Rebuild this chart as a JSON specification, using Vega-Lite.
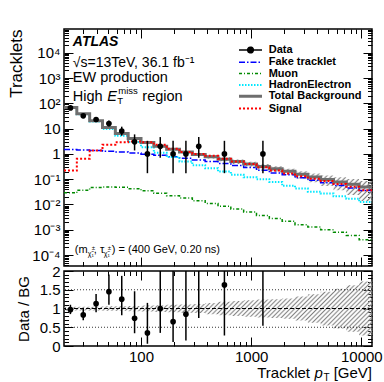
{
  "$schema": "https://vega.github.io/schema/vega-lite/v6.json",
  "padding": {"left": 7, "top": 27, "right": 5, "bottom": 2},
  "spacing": -5,
  "datasets": {
    "hist": [
      {"x": 20, "Total Background": 68, "Fake tracklet": 1.5, "Muon": 0.029, "HadronElectron": 66.5, "Signal": 0.22, "tlo": 64.6, "thi": 71.4, "rlo": 0.95, "rhi": 1.05},
      {"x": 26.15, "Total Background": 38.5, "Fake tracklet": 1.42, "Muon": 0.037, "HadronElectron": 37, "Signal": 0.65, "tlo": 36.6, "thi": 40.4, "rlo": 0.95, "rhi": 1.05},
      {"x": 34.2, "Total Background": 20.4, "Fake tracklet": 1.35, "Muon": 0.047, "HadronElectron": 19, "Signal": 1.37, "tlo": 19.4, "thi": 21.4, "rlo": 0.95, "rhi": 1.05},
      {"x": 44.72, "Total Background": 11, "Fake tracklet": 1.27, "Muon": 0.049, "HadronElectron": 9.7, "Signal": 2.3, "tlo": 10.3, "thi": 11.7, "rlo": 0.94, "rhi": 1.06},
      {"x": 58.48, "Total Background": 6.4, "Fake tracklet": 1.18, "Muon": 0.048, "HadronElectron": 5.2, "Signal": 2.9, "tlo": 6.0, "thi": 6.8, "rlo": 0.94, "rhi": 1.06},
      {"x": 76.47, "Total Background": 4.05, "Fake tracklet": 1.08, "Muon": 0.042, "HadronElectron": 2.95, "Signal": 3.1, "tlo": 3.77, "thi": 4.33, "rlo": 0.93, "rhi": 1.07},
      {"x": 100, "Total Background": 2.86, "Fake tracklet": 0.98, "Muon": 0.035, "HadronElectron": 1.85, "Signal": 2.9, "tlo": 2.63, "thi": 3.09, "rlo": 0.92, "rhi": 1.08},
      {"x": 130.77, "Total Background": 2.0, "Fake tracklet": 0.88, "Muon": 0.028, "HadronElectron": 1.1, "Signal": 2.3, "tlo": 1.82, "thi": 2.18, "rlo": 0.91, "rhi": 1.09},
      {"x": 171, "Total Background": 1.54, "Fake tracklet": 0.78, "Muon": 0.022, "HadronElectron": 0.75, "Signal": 1.6, "tlo": 1.386, "thi": 1.694, "rlo": 0.9, "rhi": 1.1},
      {"x": 223.6, "Total Background": 1.18, "Fake tracklet": 0.68, "Muon": 0.018, "HadronElectron": 0.5, "Signal": 1.2, "tlo": 1.05, "thi": 1.31, "rlo": 0.89, "rhi": 1.11},
      {"x": 292.4, "Total Background": 0.94, "Fake tracklet": 0.58, "Muon": 0.014, "HadronElectron": 0.36, "Signal": 1.0, "tlo": 0.827, "thi": 1.053, "rlo": 0.88, "rhi": 1.12},
      {"x": 382.4, "Total Background": 0.77, "Fake tracklet": 0.5, "Muon": 0.011, "HadronElectron": 0.27, "Signal": 0.85, "tlo": 0.655, "thi": 0.886, "rlo": 0.85, "rhi": 1.15},
      {"x": 500, "Total Background": 0.62, "Fake tracklet": 0.42, "Muon": 0.0085, "HadronElectron": 0.2, "Signal": 0.65, "tlo": 0.508, "thi": 0.732, "rlo": 0.82, "rhi": 1.18},
      {"x": 653.8, "Total Background": 0.5, "Fake tracklet": 0.35, "Muon": 0.0066, "HadronElectron": 0.15, "Signal": 0.5, "tlo": 0.4, "thi": 0.6, "rlo": 0.8, "rhi": 1.2},
      {"x": 855, "Total Background": 0.4, "Fake tracklet": 0.29, "Muon": 0.005, "HadronElectron": 0.12, "Signal": 0.4, "tlo": 0.312, "thi": 0.488, "rlo": 0.78, "rhi": 1.22},
      {"x": 1118, "Total Background": 0.32, "Fake tracklet": 0.224, "Muon": 0.0037, "HadronElectron": 0.1, "Signal": 0.3, "tlo": 0.243, "thi": 0.397, "rlo": 0.76, "rhi": 1.24},
      {"x": 1462, "Total Background": 0.26, "Fake tracklet": 0.178, "Muon": 0.0028, "HadronElectron": 0.078, "Signal": 0.22, "tlo": 0.195, "thi": 0.325, "rlo": 0.75, "rhi": 1.25},
      {"x": 1912, "Total Background": 0.205, "Fake tracklet": 0.15, "Muon": 0.0022, "HadronElectron": 0.055, "Signal": 0.17, "tlo": 0.15, "thi": 0.26, "rlo": 0.73, "rhi": 1.27},
      {"x": 2500, "Total Background": 0.156, "Fake tracklet": 0.113, "Muon": 0.0016, "HadronElectron": 0.043, "Signal": 0.13, "tlo": 0.106, "thi": 0.206, "rlo": 0.68, "rhi": 1.32},
      {"x": 3269, "Total Background": 0.122, "Fake tracklet": 0.09, "Muon": 0.0013, "HadronElectron": 0.032, "Signal": 0.105, "tlo": 0.0756, "thi": 0.168, "rlo": 0.62, "rhi": 1.38},
      {"x": 4275, "Total Background": 0.097, "Fake tracklet": 0.072, "Muon": 0.001, "HadronElectron": 0.027, "Signal": 0.085, "tlo": 0.0534, "thi": 0.141, "rlo": 0.55, "rhi": 1.45},
      {"x": 5590, "Total Background": 0.078, "Fake tracklet": 0.057, "Muon": 0.0008, "HadronElectron": 0.021, "Signal": 0.065, "tlo": 0.0367, "thi": 0.119, "rlo": 0.47, "rhi": 1.53},
      {"x": 7310, "Total Background": 0.063, "Fake tracklet": 0.045, "Muon": 0.0006, "HadronElectron": 0.017, "Signal": 0.05, "tlo": 0.0239, "thi": 0.102, "rlo": 0.38, "rhi": 1.62},
      {"x": 9560, "Total Background": 0.049, "Fake tracklet": 0.036, "Muon": 0.0004, "HadronElectron": 0.0126, "Signal": 0.037, "tlo": 0.0137, "thi": 0.0843, "rlo": 0.28, "rhi": 1.72},
      {"x": 12500, "Total Background": 0.049, "Fake tracklet": 0.036, "Muon": 0.0004, "HadronElectron": 0.0126, "Signal": 0.037, "tlo": 0.0137, "thi": 0.0843, "rlo": 0.28, "rhi": 1.72}
    ],
    "pts": [
      {"x": 22.87, "n": 66, "lo": 57.9, "hi": 75.0, "r": 0.97, "rl": 0.85, "rh": 1.10},
      {"x": 29.9, "n": 32, "lo": 26.4, "hi": 38.1, "r": 0.83, "rl": 0.69, "rh": 0.99},
      {"x": 39.11, "n": 23, "lo": 18.3, "hi": 28.3, "r": 1.13, "rl": 0.9, "rh": 1.39},
      {"x": 51.14, "n": 16, "lo": 12.1, "hi": 21.0, "r": 1.45, "rl": 1.1, "rh": 1.91},
      {"x": 66.87, "n": 8, "lo": 5.23, "hi": 11.95, "r": 1.25, "rl": 0.82, "rh": 1.87},
      {"x": 87.45, "n": 3, "lo": 1.37, "hi": 5.92, "r": 0.74, "rl": 0.34, "rh": 1.46},
      {"x": 114.35, "n": 1, "lo": 0.173, "hi": 3.3, "r": 0.35, "rl": 0.06, "rh": 1.15},
      {"x": 149.54, "n": 2, "lo": 0.708, "hi": 4.64, "r": 1.0, "rl": 0.35, "rh": 2.3},
      {"x": 195.55, "n": 1, "lo": 0.173, "hi": 3.3, "r": 0.65, "rl": 0.11, "rh": 2.14},
      {"x": 255.7, "n": 1, "lo": 0.173, "hi": 3.3, "r": 0.85, "rl": 0.15, "rh": 2.8},
      {"x": 334.4, "n": 2, "lo": 0.708, "hi": 4.64, "r": 2.13, "rl": 0.75, "rh": 4.9},
      {"x": 571.8, "n": 1, "lo": 0.173, "hi": 3.3, "r": 1.63, "rl": 0.28, "rh": 5.3},
      {"x": 1278.5, "n": 1, "lo": 0.173, "hi": 3.3, "r": 3.1, "rl": 0.54, "rh": 10}
    ]
  },
  "vconcat": [
    {
      "width": 308,
      "height": 237,
      "layer": [
        {
          "data": {"name": "hist"},
          "mark": {"type": "area", "interpolate": "step-after", "clip": true, "fill": {"gradient": "linear", "x1": 0, "y1": 0, "x2": 1.194, "y2": 0.365, "stops": [
{"offset":0,"color":"#808080"},{"offset":0.00625,"color":"rgba(255,255,255,0)"},{"offset":0.0125,"color":"#808080"},{"offset":0.01875,"color":"rgba(255,255,255,0)"},{"offset":0.025,"color":"#808080"},{"offset":0.03125,"color":"rgba(255,255,255,0)"},{"offset":0.0375,"color":"#808080"},{"offset":0.04375,"color":"rgba(255,255,255,0)"},{"offset":0.05,"color":"#808080"},{"offset":0.05625,"color":"rgba(255,255,255,0)"},{"offset":0.0625,"color":"#808080"},{"offset":0.06875,"color":"rgba(255,255,255,0)"},{"offset":0.075,"color":"#808080"},{"offset":0.08125,"color":"rgba(255,255,255,0)"},{"offset":0.0875,"color":"#808080"},{"offset":0.09375,"color":"rgba(255,255,255,0)"},
{"offset":0.1,"color":"#808080"},{"offset":0.10625,"color":"rgba(255,255,255,0)"},{"offset":0.1125,"color":"#808080"},{"offset":0.11875,"color":"rgba(255,255,255,0)"},{"offset":0.125,"color":"#808080"},{"offset":0.13125,"color":"rgba(255,255,255,0)"},{"offset":0.1375,"color":"#808080"},{"offset":0.14375,"color":"rgba(255,255,255,0)"},{"offset":0.15,"color":"#808080"},{"offset":0.15625,"color":"rgba(255,255,255,0)"},{"offset":0.1625,"color":"#808080"},{"offset":0.16875,"color":"rgba(255,255,255,0)"},{"offset":0.175,"color":"#808080"},{"offset":0.18125,"color":"rgba(255,255,255,0)"},{"offset":0.1875,"color":"#808080"},{"offset":0.19375,"color":"rgba(255,255,255,0)"},
{"offset":0.2,"color":"#808080"},{"offset":0.20625,"color":"rgba(255,255,255,0)"},{"offset":0.2125,"color":"#808080"},{"offset":0.21875,"color":"rgba(255,255,255,0)"},{"offset":0.225,"color":"#808080"},{"offset":0.23125,"color":"rgba(255,255,255,0)"},{"offset":0.2375,"color":"#808080"},{"offset":0.24375,"color":"rgba(255,255,255,0)"},{"offset":0.25,"color":"#808080"},{"offset":0.25625,"color":"rgba(255,255,255,0)"},{"offset":0.2625,"color":"#808080"},{"offset":0.26875,"color":"rgba(255,255,255,0)"},{"offset":0.275,"color":"#808080"},{"offset":0.28125,"color":"rgba(255,255,255,0)"},{"offset":0.2875,"color":"#808080"},{"offset":0.29375,"color":"rgba(255,255,255,0)"},
{"offset":0.3,"color":"#808080"},{"offset":0.30625,"color":"rgba(255,255,255,0)"},{"offset":0.3125,"color":"#808080"},{"offset":0.31875,"color":"rgba(255,255,255,0)"},{"offset":0.325,"color":"#808080"},{"offset":0.33125,"color":"rgba(255,255,255,0)"},{"offset":0.3375,"color":"#808080"},{"offset":0.34375,"color":"rgba(255,255,255,0)"},{"offset":0.35,"color":"#808080"},{"offset":0.35625,"color":"rgba(255,255,255,0)"},{"offset":0.3625,"color":"#808080"},{"offset":0.36875,"color":"rgba(255,255,255,0)"},{"offset":0.375,"color":"#808080"},{"offset":0.38125,"color":"rgba(255,255,255,0)"},{"offset":0.3875,"color":"#808080"},{"offset":0.39375,"color":"rgba(255,255,255,0)"},
{"offset":0.4,"color":"#808080"},{"offset":0.40625,"color":"rgba(255,255,255,0)"},{"offset":0.4125,"color":"#808080"},{"offset":0.41875,"color":"rgba(255,255,255,0)"},{"offset":0.425,"color":"#808080"},{"offset":0.43125,"color":"rgba(255,255,255,0)"},{"offset":0.4375,"color":"#808080"},{"offset":0.44375,"color":"rgba(255,255,255,0)"},{"offset":0.45,"color":"#808080"},{"offset":0.45625,"color":"rgba(255,255,255,0)"},{"offset":0.4625,"color":"#808080"},{"offset":0.46875,"color":"rgba(255,255,255,0)"},{"offset":0.475,"color":"#808080"},{"offset":0.48125,"color":"rgba(255,255,255,0)"},{"offset":0.4875,"color":"#808080"},{"offset":0.49375,"color":"rgba(255,255,255,0)"},
{"offset":0.5,"color":"#808080"},{"offset":0.50625,"color":"rgba(255,255,255,0)"},{"offset":0.5125,"color":"#808080"},{"offset":0.51875,"color":"rgba(255,255,255,0)"},{"offset":0.525,"color":"#808080"},{"offset":0.53125,"color":"rgba(255,255,255,0)"},{"offset":0.5375,"color":"#808080"},{"offset":0.54375,"color":"rgba(255,255,255,0)"},{"offset":0.55,"color":"#808080"},{"offset":0.55625,"color":"rgba(255,255,255,0)"},{"offset":0.5625,"color":"#808080"},{"offset":0.56875,"color":"rgba(255,255,255,0)"},{"offset":0.575,"color":"#808080"},{"offset":0.58125,"color":"rgba(255,255,255,0)"},{"offset":0.5875,"color":"#808080"},{"offset":0.59375,"color":"rgba(255,255,255,0)"},
{"offset":0.6,"color":"#808080"},{"offset":0.60625,"color":"rgba(255,255,255,0)"},{"offset":0.6125,"color":"#808080"},{"offset":0.61875,"color":"rgba(255,255,255,0)"},{"offset":0.625,"color":"#808080"},{"offset":0.63125,"color":"rgba(255,255,255,0)"},{"offset":0.6375,"color":"#808080"},{"offset":0.64375,"color":"rgba(255,255,255,0)"},{"offset":0.65,"color":"#808080"},{"offset":0.65625,"color":"rgba(255,255,255,0)"},{"offset":0.6625,"color":"#808080"},{"offset":0.66875,"color":"rgba(255,255,255,0)"},{"offset":0.675,"color":"#808080"},{"offset":0.68125,"color":"rgba(255,255,255,0)"},{"offset":0.6875,"color":"#808080"},{"offset":0.69375,"color":"rgba(255,255,255,0)"},
{"offset":0.7,"color":"#808080"},{"offset":0.70625,"color":"rgba(255,255,255,0)"},{"offset":0.7125,"color":"#808080"},{"offset":0.71875,"color":"rgba(255,255,255,0)"},{"offset":0.725,"color":"#808080"},{"offset":0.73125,"color":"rgba(255,255,255,0)"},{"offset":0.7375,"color":"#808080"},{"offset":0.74375,"color":"rgba(255,255,255,0)"},{"offset":0.75,"color":"#808080"},{"offset":0.75625,"color":"rgba(255,255,255,0)"},{"offset":0.7625,"color":"#808080"},{"offset":0.76875,"color":"rgba(255,255,255,0)"},{"offset":0.775,"color":"#808080"},{"offset":0.78125,"color":"rgba(255,255,255,0)"},{"offset":0.7875,"color":"#808080"},{"offset":0.79375,"color":"rgba(255,255,255,0)"},
{"offset":0.8,"color":"#808080"},{"offset":0.80625,"color":"rgba(255,255,255,0)"},{"offset":0.8125,"color":"#808080"},{"offset":0.81875,"color":"rgba(255,255,255,0)"},{"offset":0.825,"color":"#808080"},{"offset":0.83125,"color":"rgba(255,255,255,0)"},{"offset":0.8375,"color":"#808080"},{"offset":0.84375,"color":"rgba(255,255,255,0)"},{"offset":0.85,"color":"#808080"},{"offset":0.85625,"color":"rgba(255,255,255,0)"},{"offset":0.8625,"color":"#808080"},{"offset":0.86875,"color":"rgba(255,255,255,0)"},{"offset":0.875,"color":"#808080"},{"offset":0.88125,"color":"rgba(255,255,255,0)"},{"offset":0.8875,"color":"#808080"},{"offset":0.89375,"color":"rgba(255,255,255,0)"},
{"offset":0.9,"color":"#808080"},{"offset":0.90625,"color":"rgba(255,255,255,0)"},{"offset":0.9125,"color":"#808080"},{"offset":0.91875,"color":"rgba(255,255,255,0)"},{"offset":0.925,"color":"#808080"},{"offset":0.93125,"color":"rgba(255,255,255,0)"},{"offset":0.9375,"color":"#808080"},{"offset":0.94375,"color":"rgba(255,255,255,0)"},{"offset":0.95,"color":"#808080"},{"offset":0.95625,"color":"rgba(255,255,255,0)"},{"offset":0.9625,"color":"#808080"},{"offset":0.96875,"color":"rgba(255,255,255,0)"},{"offset":0.975,"color":"#808080"},{"offset":0.98125,"color":"rgba(255,255,255,0)"},{"offset":0.9875,"color":"#808080"},{"offset":0.99375,"color":"rgba(255,255,255,0)"},{"offset":1,"color":"#808080"}
          ]}},
          "encoding": {
            "x": {"field": "x", "type": "quantitative", "scale": {"type": "log", "domain": [20, 12500], "nice": false},
                  "axis": {"orient": "bottom", "values": [100, 1000, 10000], "labels": false, "tickSize": -9, "title": null}},
            "y": {"field": "tlo", "type": "quantitative", "scale": {"type": "log", "domain": [3.7e-5, 87000], "nice": false},
                  "axis": {"orient": "left", "values": [0.0001, 0.001, 0.01, 0.1, 1, 10, 100, 1000, 10000], "tickSize": -9, "labelPadding": 13, "labelFontSize": 15,
                           "labelExpr": "datum.value < 0.0005 ? '10⁻⁴' : datum.value < 0.005 ? '10⁻³' : datum.value < 0.05 ? '10⁻²' : datum.value < 0.5 ? '10⁻¹' : datum.value < 5 ? '1' : datum.value < 50 ? '10' : datum.value < 500 ? '10²' : datum.value < 5000 ? '10³' : '10⁴'",
                           "title": "Tracklets", "titleFontSize": 17, "titleAnchor": "end", "titlePadding": 6}},
            "y2": {"field": "thi"}
          }
        },
        {
          "data": {"name": "hist"},
          "transform": [{"fold": ["Fake tracklet", "Muon", "HadronElectron", "Total Background", "Signal"], "as": ["series", "val"]}],
          "mark": {"type": "line", "interpolate": "step-after", "clip": true},
          "encoding": {
            "x": {"field": "x", "type": "quantitative",
                  "axis": {"orient": "bottom", "values": [30, 40, 50, 60, 70, 80, 90, 200, 300, 400, 500, 600, 700, 800, 900, 2000, 3000, 4000, 5000, 6000, 7000, 8000, 9000], "labels": false, "tickSize": -4.5, "title": null}},
            "y": {"field": "val", "type": "quantitative",
                  "axis": {"orient": "left", "values": [0.00004, 0.00005, 0.00006, 0.00007, 0.00008, 0.00009, 0.0002, 0.0003, 0.0004, 0.0005, 0.0006, 0.0007, 0.0008, 0.0009, 0.002, 0.003, 0.004, 0.005, 0.006, 0.007, 0.008, 0.009, 0.02, 0.03, 0.04, 0.05, 0.06, 0.07, 0.08, 0.09, 0.2, 0.3, 0.4, 0.5, 0.6, 0.7, 0.8, 0.9, 2, 3, 4, 5, 6, 7, 8, 9, 20, 30, 40, 50, 60, 70, 80, 90, 200, 300, 400, 500, 600, 700, 800, 900, 2000, 3000, 4000, 5000, 6000, 7000, 8000, 9000, 20000, 30000, 40000, 50000, 60000, 70000, 80000], "labels": false, "tickSize": -4.5, "title": null}},
            "color": {"field": "series", "type": "nominal",
                      "scale": {"domain": ["Data", "Fake tracklet", "Muon", "HadronElectron", "Total Background", "Signal"], "range": ["#000000", "#0000ff", "#008a00", "#00e8ff", "#6e6e6e", "#ff0000"]},
                      "legend": {"orient": "none", "legendX": 181, "legendY": 15.5, "title": null, "padding": 0, "labelFont": "Liberation Sans", "labelFontSize": 11, "labelFontWeight": "bold", "labelColor": "#000000",
                                 "symbolSize": 132, "labelOffset": 12.7, "rowPadding": -0.7, "symbolStrokeWidth": 1.5,
                                 "encode": {"symbols": {"update": {
                                   "shape": {"signal": "datum.value === 'Data' ? 'M-2,0L2,0M0.5,0A0.5,0.5,0,1,1,-0.5,0A0.5,0.5,0,1,1,0.5,0' : 'M-2,0L2,0'"},
                                   "fill": {"signal": "datum.value === 'Data' ? '#000000' : 'transparent'"},
                                   "strokeWidth": {"signal": "datum.value === 'Total Background' ? 3 : (datum.value === 'Signal' || datum.value === 'HadronElectron') ? 2 : 1.5"},
                                   "strokeDash": {"signal": "datum.value === 'Fake tracklet' ? [6,2,1.5,2] : datum.value === 'Muon' ? [3,2,1,2] : datum.value === 'HadronElectron' ? [1.5,1.5] : datum.value === 'Signal' ? [2,2] : [1,0]"}
                                 }}}}},
            "strokeDash": {"condition": [
              {"test": "datum.series === 'Fake tracklet'", "value": [6, 2, 1.5, 2]},
              {"test": "datum.series === 'Muon'", "value": [3, 2, 1, 2]},
              {"test": "datum.series === 'HadronElectron'", "value": [1.5, 1.5]},
              {"test": "datum.series === 'Signal'", "value": [2, 2]}
            ], "value": [1, 0]},
            "strokeWidth": {"condition": [
              {"test": "datum.series === 'Total Background'", "value": 3},
              {"test": "datum.series === 'Signal' || datum.series === 'HadronElectron'", "value": 2}
            ], "value": 1.5}
          }
        },
        {
          "data": {"name": "pts"},
          "mark": {"type": "rule", "color": "#000000", "strokeWidth": 1.5, "clip": true},
          "encoding": {
            "x": {"field": "x", "type": "quantitative",
                  "axis": {"orient": "top", "values": [100, 1000, 10000], "labels": false, "tickSize": -9, "title": null}},
            "y": {"field": "lo", "type": "quantitative",
                  "axis": {"orient": "right", "values": [0.0001, 0.001, 0.01, 0.1, 1, 10, 100, 1000, 10000], "labels": false, "tickSize": -9, "title": null}},
            "y2": {"field": "hi"}
          }
        },
        {
          "data": {"name": "pts"},
          "mark": {"type": "point", "filled": true, "size": 32, "color": "#000000", "opacity": 1},
          "encoding": {
            "x": {"field": "x", "type": "quantitative",
                  "axis": {"orient": "top", "values": [30, 40, 50, 60, 70, 80, 90, 200, 300, 400, 500, 600, 700, 800, 900, 2000, 3000, 4000, 5000, 6000, 7000, 8000, 9000], "labels": false, "tickSize": -4.5, "title": null}},
            "y": {"field": "n", "type": "quantitative",
                  "axis": {"orient": "right", "values": [0.00004, 0.00005, 0.00006, 0.00007, 0.00008, 0.00009, 0.0002, 0.0003, 0.0004, 0.0005, 0.0006, 0.0007, 0.0008, 0.0009, 0.002, 0.003, 0.004, 0.005, 0.006, 0.007, 0.008, 0.009, 0.02, 0.03, 0.04, 0.05, 0.06, 0.07, 0.08, 0.09, 0.2, 0.3, 0.4, 0.5, 0.6, 0.7, 0.8, 0.9, 2, 3, 4, 5, 6, 7, 8, 9, 20, 30, 40, 50, 60, 70, 80, 90, 200, 300, 400, 500, 600, 700, 800, 900, 2000, 3000, 4000, 5000, 6000, 7000, 8000, 9000, 20000, 30000, 40000, 50000, 60000, 70000, 80000], "labels": false, "tickSize": -4.5, "title": null}}
          }
        },
        {
          "data": {"values": [{}]},
          "mark": {"type": "text", "text": "ATLAS", "fontSize": 14, "fontWeight": "bold", "fontStyle": "italic", "align": "left", "baseline": "alphabetic", "color": "#000000"},
          "encoding": {"x": {"datum": 24.05, "type": "quantitative", "axis": null}, "y": {"datum": 18700, "type": "quantitative", "axis": null}}
        },
        {
          "data": {"values": [{}]},
          "mark": {"type": "text", "text": "√s=13TeV, 36.1 fb⁻¹", "fontSize": 14, "align": "left", "baseline": "alphabetic", "color": "#000000"},
          "encoding": {"x": {"datum": 24.05, "type": "quantitative", "axis": null}, "y": {"datum": 2770, "type": "quantitative", "axis": null}}
        },
        {
          "data": {"values": [{}]},
          "mark": {"type": "text", "text": "EW production", "fontSize": 14.5, "align": "left", "baseline": "alphabetic", "color": "#000000"},
          "encoding": {"x": {"datum": 24.05, "type": "quantitative", "axis": null}, "y": {"datum": 712, "type": "quantitative", "axis": null}}
        },
        {
          "data": {"values": [{}]},
          "mark": {"type": "text", "text": "High", "fontSize": 14.5, "align": "left", "baseline": "alphabetic", "color": "#000000"},
          "encoding": {"x": {"datum": 24.05, "type": "quantitative", "axis": null}, "y": {"datum": 127.7, "type": "quantitative", "axis": null}}
        },
        {
          "data": {"values": [{}]},
          "mark": {"type": "text", "text": "E", "fontSize": 14.5, "fontStyle": "italic", "align": "left", "baseline": "alphabetic", "dx": 34.5, "color": "#000000"},
          "encoding": {"x": {"datum": 24.05, "type": "quantitative", "axis": null}, "y": {"datum": 127.7, "type": "quantitative", "axis": null}}
        },
        {
          "data": {"values": [{}]},
          "mark": {"type": "text", "text": "miss", "fontSize": 9.5, "align": "left", "baseline": "alphabetic", "dx": 45.5, "dy": -7, "color": "#000000"},
          "encoding": {"x": {"datum": 24.05, "type": "quantitative", "axis": null}, "y": {"datum": 127.7, "type": "quantitative", "axis": null}}
        },
        {
          "data": {"values": [{}]},
          "mark": {"type": "text", "text": "T", "fontSize": 9.5, "align": "left", "baseline": "alphabetic", "dx": 44.5, "dy": 3, "color": "#000000"},
          "encoding": {"x": {"datum": 24.05, "type": "quantitative", "axis": null}, "y": {"datum": 127.7, "type": "quantitative", "axis": null}}
        },
        {
          "data": {"values": [{}]},
          "mark": {"type": "text", "text": "region", "fontSize": 14.5, "align": "left", "baseline": "alphabetic", "dx": 69.5, "color": "#000000"},
          "encoding": {"x": {"datum": 24.05, "type": "quantitative", "axis": null}, "y": {"datum": 127.7, "type": "quantitative", "axis": null}}
        },
        {
          "data": {"values": [{}]},
          "mark": {"type": "text", "text": "(m", "fontSize": 11, "align": "left", "baseline": "alphabetic", "color": "#000000"},
          "encoding": {"x": {"datum": 25.1, "type": "quantitative", "axis": null}, "y": {"datum": 0.00012, "type": "quantitative", "axis": null}}
        },
        {
          "data": {"values": [{}]},
          "mark": {"type": "text", "text": "χ̃₁", "fontSize": 7, "align": "left", "baseline": "alphabetic", "dx": 13, "dy": 3, "color": "#000000"},
          "encoding": {"x": {"datum": 25.1, "type": "quantitative", "axis": null}, "y": {"datum": 0.00012, "type": "quantitative", "axis": null}}
        },
        {
          "data": {"values": [{}]},
          "mark": {"type": "text", "text": "±", "fontSize": 6, "align": "left", "baseline": "alphabetic", "dx": 17, "dy": -3, "color": "#000000"},
          "encoding": {"x": {"datum": 25.1, "type": "quantitative", "axis": null}, "y": {"datum": 0.00012, "type": "quantitative", "axis": null}}
        },
        {
          "data": {"values": [{}]},
          "mark": {"type": "text", "text": ", τ", "fontSize": 11, "align": "left", "baseline": "alphabetic", "dx": 19, "color": "#000000"},
          "encoding": {"x": {"datum": 25.1, "type": "quantitative", "axis": null}, "y": {"datum": 0.00012, "type": "quantitative", "axis": null}}
        },
        {
          "data": {"values": [{}]},
          "mark": {"type": "text", "text": "χ̃₁", "fontSize": 7, "align": "left", "baseline": "alphabetic", "dx": 29, "dy": 3, "color": "#000000"},
          "encoding": {"x": {"datum": 25.1, "type": "quantitative", "axis": null}, "y": {"datum": 0.00012, "type": "quantitative", "axis": null}}
        },
        {
          "data": {"values": [{}]},
          "mark": {"type": "text", "text": "±", "fontSize": 6, "align": "left", "baseline": "alphabetic", "dx": 33, "dy": -3, "color": "#000000"},
          "encoding": {"x": {"datum": 25.1, "type": "quantitative", "axis": null}, "y": {"datum": 0.00012, "type": "quantitative", "axis": null}}
        },
        {
          "data": {"values": [{}]},
          "mark": {"type": "text", "text": ") = (400 GeV, 0.20 ns)", "fontSize": 11, "align": "left", "baseline": "alphabetic", "dx": 37, "color": "#000000"},
          "encoding": {"x": {"datum": 25.1, "type": "quantitative", "axis": null}, "y": {"datum": 0.00012, "type": "quantitative", "axis": null}}
        }
      ],
      "resolve": {"axis": {"x": "independent", "y": "independent"}}
    },
    {
      "width": 308,
      "height": 75,
      "layer": [
        {
          "data": {"name": "hist"},
          "mark": {"type": "area", "interpolate": "step-after", "clip": true, "fill": {"gradient": "linear", "x1": 0, "y1": 0, "x2": 1.14, "y2": 0.1995, "stops": [
{"offset":0,"color":"#808080"},{"offset":0.00625,"color":"rgba(255,255,255,0)"},{"offset":0.0125,"color":"#808080"},{"offset":0.01875,"color":"rgba(255,255,255,0)"},{"offset":0.025,"color":"#808080"},{"offset":0.03125,"color":"rgba(255,255,255,0)"},{"offset":0.0375,"color":"#808080"},{"offset":0.04375,"color":"rgba(255,255,255,0)"},{"offset":0.05,"color":"#808080"},{"offset":0.05625,"color":"rgba(255,255,255,0)"},{"offset":0.0625,"color":"#808080"},{"offset":0.06875,"color":"rgba(255,255,255,0)"},{"offset":0.075,"color":"#808080"},{"offset":0.08125,"color":"rgba(255,255,255,0)"},{"offset":0.0875,"color":"#808080"},{"offset":0.09375,"color":"rgba(255,255,255,0)"},
{"offset":0.1,"color":"#808080"},{"offset":0.10625,"color":"rgba(255,255,255,0)"},{"offset":0.1125,"color":"#808080"},{"offset":0.11875,"color":"rgba(255,255,255,0)"},{"offset":0.125,"color":"#808080"},{"offset":0.13125,"color":"rgba(255,255,255,0)"},{"offset":0.1375,"color":"#808080"},{"offset":0.14375,"color":"rgba(255,255,255,0)"},{"offset":0.15,"color":"#808080"},{"offset":0.15625,"color":"rgba(255,255,255,0)"},{"offset":0.1625,"color":"#808080"},{"offset":0.16875,"color":"rgba(255,255,255,0)"},{"offset":0.175,"color":"#808080"},{"offset":0.18125,"color":"rgba(255,255,255,0)"},{"offset":0.1875,"color":"#808080"},{"offset":0.19375,"color":"rgba(255,255,255,0)"},
{"offset":0.2,"color":"#808080"},{"offset":0.20625,"color":"rgba(255,255,255,0)"},{"offset":0.2125,"color":"#808080"},{"offset":0.21875,"color":"rgba(255,255,255,0)"},{"offset":0.225,"color":"#808080"},{"offset":0.23125,"color":"rgba(255,255,255,0)"},{"offset":0.2375,"color":"#808080"},{"offset":0.24375,"color":"rgba(255,255,255,0)"},{"offset":0.25,"color":"#808080"},{"offset":0.25625,"color":"rgba(255,255,255,0)"},{"offset":0.2625,"color":"#808080"},{"offset":0.26875,"color":"rgba(255,255,255,0)"},{"offset":0.275,"color":"#808080"},{"offset":0.28125,"color":"rgba(255,255,255,0)"},{"offset":0.2875,"color":"#808080"},{"offset":0.29375,"color":"rgba(255,255,255,0)"},
{"offset":0.3,"color":"#808080"},{"offset":0.30625,"color":"rgba(255,255,255,0)"},{"offset":0.3125,"color":"#808080"},{"offset":0.31875,"color":"rgba(255,255,255,0)"},{"offset":0.325,"color":"#808080"},{"offset":0.33125,"color":"rgba(255,255,255,0)"},{"offset":0.3375,"color":"#808080"},{"offset":0.34375,"color":"rgba(255,255,255,0)"},{"offset":0.35,"color":"#808080"},{"offset":0.35625,"color":"rgba(255,255,255,0)"},{"offset":0.3625,"color":"#808080"},{"offset":0.36875,"color":"rgba(255,255,255,0)"},{"offset":0.375,"color":"#808080"},{"offset":0.38125,"color":"rgba(255,255,255,0)"},{"offset":0.3875,"color":"#808080"},{"offset":0.39375,"color":"rgba(255,255,255,0)"},
{"offset":0.4,"color":"#808080"},{"offset":0.40625,"color":"rgba(255,255,255,0)"},{"offset":0.4125,"color":"#808080"},{"offset":0.41875,"color":"rgba(255,255,255,0)"},{"offset":0.425,"color":"#808080"},{"offset":0.43125,"color":"rgba(255,255,255,0)"},{"offset":0.4375,"color":"#808080"},{"offset":0.44375,"color":"rgba(255,255,255,0)"},{"offset":0.45,"color":"#808080"},{"offset":0.45625,"color":"rgba(255,255,255,0)"},{"offset":0.4625,"color":"#808080"},{"offset":0.46875,"color":"rgba(255,255,255,0)"},{"offset":0.475,"color":"#808080"},{"offset":0.48125,"color":"rgba(255,255,255,0)"},{"offset":0.4875,"color":"#808080"},{"offset":0.49375,"color":"rgba(255,255,255,0)"},
{"offset":0.5,"color":"#808080"},{"offset":0.50625,"color":"rgba(255,255,255,0)"},{"offset":0.5125,"color":"#808080"},{"offset":0.51875,"color":"rgba(255,255,255,0)"},{"offset":0.525,"color":"#808080"},{"offset":0.53125,"color":"rgba(255,255,255,0)"},{"offset":0.5375,"color":"#808080"},{"offset":0.54375,"color":"rgba(255,255,255,0)"},{"offset":0.55,"color":"#808080"},{"offset":0.55625,"color":"rgba(255,255,255,0)"},{"offset":0.5625,"color":"#808080"},{"offset":0.56875,"color":"rgba(255,255,255,0)"},{"offset":0.575,"color":"#808080"},{"offset":0.58125,"color":"rgba(255,255,255,0)"},{"offset":0.5875,"color":"#808080"},{"offset":0.59375,"color":"rgba(255,255,255,0)"},
{"offset":0.6,"color":"#808080"},{"offset":0.60625,"color":"rgba(255,255,255,0)"},{"offset":0.6125,"color":"#808080"},{"offset":0.61875,"color":"rgba(255,255,255,0)"},{"offset":0.625,"color":"#808080"},{"offset":0.63125,"color":"rgba(255,255,255,0)"},{"offset":0.6375,"color":"#808080"},{"offset":0.64375,"color":"rgba(255,255,255,0)"},{"offset":0.65,"color":"#808080"},{"offset":0.65625,"color":"rgba(255,255,255,0)"},{"offset":0.6625,"color":"#808080"},{"offset":0.66875,"color":"rgba(255,255,255,0)"},{"offset":0.675,"color":"#808080"},{"offset":0.68125,"color":"rgba(255,255,255,0)"},{"offset":0.6875,"color":"#808080"},{"offset":0.69375,"color":"rgba(255,255,255,0)"},
{"offset":0.7,"color":"#808080"},{"offset":0.70625,"color":"rgba(255,255,255,0)"},{"offset":0.7125,"color":"#808080"},{"offset":0.71875,"color":"rgba(255,255,255,0)"},{"offset":0.725,"color":"#808080"},{"offset":0.73125,"color":"rgba(255,255,255,0)"},{"offset":0.7375,"color":"#808080"},{"offset":0.74375,"color":"rgba(255,255,255,0)"},{"offset":0.75,"color":"#808080"},{"offset":0.75625,"color":"rgba(255,255,255,0)"},{"offset":0.7625,"color":"#808080"},{"offset":0.76875,"color":"rgba(255,255,255,0)"},{"offset":0.775,"color":"#808080"},{"offset":0.78125,"color":"rgba(255,255,255,0)"},{"offset":0.7875,"color":"#808080"},{"offset":0.79375,"color":"rgba(255,255,255,0)"},
{"offset":0.8,"color":"#808080"},{"offset":0.80625,"color":"rgba(255,255,255,0)"},{"offset":0.8125,"color":"#808080"},{"offset":0.81875,"color":"rgba(255,255,255,0)"},{"offset":0.825,"color":"#808080"},{"offset":0.83125,"color":"rgba(255,255,255,0)"},{"offset":0.8375,"color":"#808080"},{"offset":0.84375,"color":"rgba(255,255,255,0)"},{"offset":0.85,"color":"#808080"},{"offset":0.85625,"color":"rgba(255,255,255,0)"},{"offset":0.8625,"color":"#808080"},{"offset":0.86875,"color":"rgba(255,255,255,0)"},{"offset":0.875,"color":"#808080"},{"offset":0.88125,"color":"rgba(255,255,255,0)"},{"offset":0.8875,"color":"#808080"},{"offset":0.89375,"color":"rgba(255,255,255,0)"},
{"offset":0.9,"color":"#808080"},{"offset":0.90625,"color":"rgba(255,255,255,0)"},{"offset":0.9125,"color":"#808080"},{"offset":0.91875,"color":"rgba(255,255,255,0)"},{"offset":0.925,"color":"#808080"},{"offset":0.93125,"color":"rgba(255,255,255,0)"},{"offset":0.9375,"color":"#808080"},{"offset":0.94375,"color":"rgba(255,255,255,0)"},{"offset":0.95,"color":"#808080"},{"offset":0.95625,"color":"rgba(255,255,255,0)"},{"offset":0.9625,"color":"#808080"},{"offset":0.96875,"color":"rgba(255,255,255,0)"},{"offset":0.975,"color":"#808080"},{"offset":0.98125,"color":"rgba(255,255,255,0)"},{"offset":0.9875,"color":"#808080"},{"offset":0.99375,"color":"rgba(255,255,255,0)"},{"offset":1,"color":"#808080"}
          ]}},
          "encoding": {
            "x": {"field": "x", "type": "quantitative", "scale": {"type": "log", "domain": [20, 12500], "nice": false},
                  "axis": {"orient": "bottom", "values": [100, 1000, 10000], "format": "d", "tickSize": -9, "labelPadding": 12, "labelFontSize": 15, "title": null}},
            "y": {"field": "rlo", "type": "quantitative", "scale": {"domain": [0, 2], "nice": false, "zero": false},
                  "axis": {"orient": "left", "values": [0, 0.5, 1, 1.5, 2], "format": "~g", "tickSize": -9, "labelPadding": 13, "labelFontSize": 15, "title": "Data / BG", "titleFontSize": 15, "titlePadding": 8}},
            "y2": {"field": "rhi"}
          }
        },
        {
          "data": {"values": [{}]},
          "mark": {"type": "rule", "color": "#000000", "strokeWidth": 1, "strokeDash": [4, 2]},
          "encoding": {"y": {"datum": 1, "type": "quantitative",
                  "axis": {"orient": "left", "values": [0.1, 0.2, 0.3, 0.4, 0.6, 0.7, 0.8, 0.9, 1.1, 1.2, 1.3, 1.4, 1.6, 1.7, 1.8, 1.9], "labels": false, "tickSize": -4.5, "title": null}}}
        },
        {
          "data": {"values": [{}]},
          "mark": {"type": "rule", "color": "#000000", "strokeWidth": 0.8, "strokeDash": [1, 2]},
          "encoding": {"y": {"datum": 0.5, "type": "quantitative",
                  "axis": {"orient": "right", "values": [0, 0.5, 1, 1.5, 2], "labels": false, "tickSize": -9, "title": null}}}
        },
        {
          "data": {"values": [{}]},
          "mark": {"type": "rule", "color": "#000000", "strokeWidth": 0.8, "strokeDash": [1, 2]},
          "encoding": {"y": {"datum": 1.5, "type": "quantitative",
                  "axis": {"orient": "right", "values": [0.1, 0.2, 0.3, 0.4, 0.6, 0.7, 0.8, 0.9, 1.1, 1.2, 1.3, 1.4, 1.6, 1.7, 1.8, 1.9], "labels": false, "tickSize": -4.5, "title": null}}}
        },
        {
          "data": {"name": "pts"},
          "mark": {"type": "rule", "color": "#000000", "strokeWidth": 1.5, "clip": true},
          "encoding": {
            "x": {"field": "x", "type": "quantitative",
                  "axis": {"orient": "bottom", "values": [30, 40, 50, 60, 70, 80, 90, 200, 300, 400, 500, 600, 700, 800, 900, 2000, 3000, 4000, 5000, 6000, 7000, 8000, 9000], "labels": false, "tickSize": -4.5, "title": null}},
            "y": {"field": "rl", "type": "quantitative", "axis": null},
            "y2": {"field": "rh"}
          }
        },
        {
          "data": {"name": "pts"},
          "mark": {"type": "point", "filled": true, "size": 32, "color": "#000000", "opacity": 1, "clip": true},
          "encoding": {
            "x": {"field": "x", "type": "quantitative",
                  "axis": {"orient": "top", "values": [100, 1000, 10000], "labels": false, "tickSize": -9, "title": null}},
            "y": {"field": "r", "type": "quantitative", "axis": null}
          }
        },
        {
          "data": {"values": [{}]},
          "mark": {"type": "text", "text": "[GeV]", "fontSize": 15, "align": "right", "baseline": "alphabetic", "dy": 32, "color": "#000000"},
          "encoding": {"x": {"datum": 12500, "type": "quantitative",
                  "axis": {"orient": "top", "values": [30, 40, 50, 60, 70, 80, 90, 200, 300, 400, 500, 600, 700, 800, 900, 2000, 3000, 4000, 5000, 6000, 7000, 8000, 9000], "labels": false, "tickSize": -4.5, "title": null}},
                       "y": {"datum": 0, "type": "quantitative", "axis": null}}
        },
        {
          "data": {"values": [{}]},
          "mark": {"type": "text", "text": "T", "fontSize": 10, "align": "left", "baseline": "alphabetic", "dx": -48.5, "dy": 35, "color": "#000000"},
          "encoding": {"x": {"datum": 12500, "type": "quantitative", "axis": null}, "y": {"datum": 0, "type": "quantitative", "axis": null}}
        },
        {
          "data": {"values": [{}]},
          "mark": {"type": "text", "text": "p", "fontSize": 15, "fontStyle": "italic", "align": "left", "baseline": "alphabetic", "dx": -57.5, "dy": 32, "color": "#000000"},
          "encoding": {"x": {"datum": 12500, "type": "quantitative", "axis": null}, "y": {"datum": 0, "type": "quantitative", "axis": null}}
        },
        {
          "data": {"values": [{}]},
          "mark": {"type": "text", "text": "Tracklet", "fontSize": 15, "align": "right", "baseline": "alphabetic", "dx": -62, "dy": 32, "color": "#000000"},
          "encoding": {"x": {"datum": 12500, "type": "quantitative", "axis": null}, "y": {"datum": 0, "type": "quantitative", "axis": null}}
        }
      ],
      "resolve": {"axis": {"x": "independent", "y": "independent"}}
    }
  ],
  "config": {
    "font": "Liberation Sans",
    "view": {"stroke": "#000000", "strokeWidth": 1.5},
    "axis": {"domain": false, "grid": false, "tickColor": "#000000", "tickWidth": 1, "labelColor": "#000000", "titleColor": "#000000", "labelFont": "Liberation Sans", "titleFont": "Liberation Sans", "titleFontWeight": "normal"},
    "text": {"font": "Liberation Sans"}
  }
}
